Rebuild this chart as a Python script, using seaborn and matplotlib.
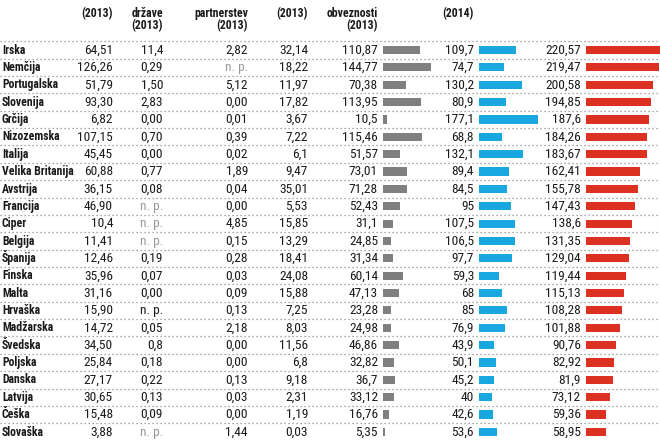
import os
import matplotlib
matplotlib.use("Agg")
import matplotlib.pyplot as plt
from matplotlib import font_manager
from matplotlib.font_manager import FontProperties
import seaborn as sns

# Data
countries = ['Irska', 'Nemčija', 'Portugalska', 'Slovenija', 'Grčija', 'Nizozemska',
             'Italija', 'Velika Britanija', 'Avstrija', 'Francija', 'Ciper', 'Belgija',
             'Španija', 'Finska', 'Malta', 'Hrvaška', 'Madžarska', 'Švedska', 'Poljska',
             'Danska', 'Latvija', 'Češka', 'Slovaška']
col_a = ['64,51', '126,26', '51,79', '93,30', '6,82', '107,15', '45,45', '60,88', '36,15',
         '46,90', '10,4', '11,41', '12,46', '35,96', '31,16', '15,90', '14,72', '34,50',
         '25,84', '27,17', '30,65', '15,48', '3,88']
col_b = ['11,4', '0,29', '1,50', '2,83', '0,00', '0,70', '0,00', '0,77', '0,08', 'n. p.',
         'n. p.', 'n. p.', '0,19', '0,07', '0,00', 'n. p.', '0,05', '0,8', '0,18', '0,22',
         '0,13', '0,09', 'n. p.']
col_c = ['2,82', 'n. p.', '5,12', '0,00', '0,01', '0,39', '0,02', '1,89', '0,04', '0,00',
         '4,85', '0,15', '0,28', '0,03', '0,09', '0,13', '2,18', '0,00', '0,00', '0,13',
         '0,03', '0,00', '1,44']
col_d = ['32,14', '18,22', '11,97', '17,82', '3,67', '7,22', '6,1', '9,47', '35,01', '5,53',
         '15,85', '13,29', '18,41', '24,08', '15,88', '7,25', '8,03', '11,56', '6,8', '9,18',
         '2,31', '1,19', '0,03']
obveznosti = [110.87, 144.77, 70.38, 113.95, 10.5, 115.46, 51.57, 73.01, 71.28, 52.43, 31.1,
              24.85, 31.34, 60.14, 47.13, 23.28, 24.98, 46.86, 32.82, 36.7, 33.12, 16.76, 5.35]
val_2014 = [109.7, 74.7, 130.2, 80.9, 177.1, 68.8, 132.1, 89.4, 84.5, 95, 107.5, 106.5, 97.7,
            59.3, 68, 85, 76.9, 43.9, 50.1, 45.2, 40, 42.6, 53.6]
skupaj = [220.57, 219.47, 200.58, 194.85, 187.6, 184.26, 183.67, 162.41, 155.78, 147.43, 138.6,
          131.35, 129.04, 119.44, 115.13, 108.28, 101.88, 90.76, 82.92, 81.9, 73.12, 59.36, 58.95]

header_2 = [(113, '(2013)'), (163, 'države'), (248, 'partnerstev'), (308, '(2013)'),
            (378, 'obveznosti'), (474, '(2014)')]
header_3 = [(163, '(2013)'), (248, '(2013)'), (378, '(2013)')]

# Style
sns.set_theme(style='white')
plt.rcParams['font.family'] = ['Lato', 'DejaVu Sans']

# look for a condensed / narrow face (regular + bold) among installed fonts
skip = ('Thin', 'Light', 'Medium', 'Black', 'Extra', 'Semi', 'Ultra', 'Italic',
        'Oblique', 'Heavy', 'Mono', 'Display', 'Serif')
groups = {}
for f in font_manager.fontManager.ttflist:
    base = os.path.basename(f.fname)
    if ('Condensed' in base or 'Narrow' in base) and not any(k in base for k in skip):
        key = base.split('-')[0]
        kind = 'bold' if 'Bold' in base else 'regular'
        groups.setdefault(key, {})[kind] = f.fname

font_reg = font_bold = None
for pref in ('RobotoCondensed', 'Roboto', 'NotoSans', 'OpenSans', 'LiberationSansNarrow',
             'DejaVuSansCondensed', 'DejaVuSans'):
    for key, d in groups.items():
        if key.startswith(pref) and 'regular' in d and 'bold' in d:
            font_reg, font_bold = d['regular'], d['bold']
            break
    if font_reg:
        break

fs = 9.6 if font_reg else 8.6
fs_b = 8.5 if font_reg else 8.0


def fp(bold=False):
    size = fs_b if bold else fs
    if font_reg:
        return FontProperties(fname=font_bold if bold else font_reg, size=size)
    return FontProperties(family=['Lato', 'DejaVu Sans'], size=size,
                          weight='bold' if bold else 'normal')


W, H = 660, 440
row0, step = 50, 17.36
ylim = ((H - row0) / step, -row0 / step)
px_per_unit = 0.3335
base_off = 0.21  # baseline sits a little below the row centre

fig = plt.figure(figsize=(6.6, 4.4), dpi=100)
ax = fig.add_axes([0, 0, 1, 1])
ax.set_xlim(0, W)
ax.set_ylim(*ylim)
ax.axis('off')

dark = '#1a1a1a'
grey_txt = '#9a9a9a'


def fmt(v):
    return f"{v:g}".replace('.', ',')


# dotted separators
n = len(countries)
for i in range(n):
    ax.axhline(i - 0.5, color='#8a8a8a', lw=0.9, ls=(0, (1, 2.2)))

for i, c in enumerate(countries):
    y = i + base_off
    ax.text(2, y, c, ha='left', va='baseline', fontproperties=fp(True), color=dark)
    for x, lst in [(113, col_a), (163, col_b), (248, col_c), (308, col_d)]:
        s = lst[i]
        col = grey_txt if s == 'n. p.' and not (lst is col_b and c == 'Hrvaška') else dark
        ax.text(x, y, s, ha='right', va='baseline', fontproperties=fp(), color=col)
    ax.text(378, y, fmt(obveznosti[i]), ha='right', va='baseline', fontproperties=fp(), color=dark)
    ax.text(474, y, fmt(val_2014[i]), ha='right', va='baseline', fontproperties=fp(), color=dark)
    ax.text(581, y, fmt(skupaj[i]), ha='right', va='baseline', fontproperties=fp(), color=dark)

for x, s in header_2:
    ax.text(x, -2.13 + base_off, s, ha='right', va='baseline', fontproperties=fp(True), color=dark)
for x, s in header_3:
    ax.text(x, -1.44 + base_off, s, ha='right', va='baseline', fontproperties=fp(True), color=dark)

# bar columns
bar_cols = [(383, 60, obveznosti, '#7f7f7f'),
            (479, 66, val_2014, '#19a7e0'),
            (586, 74, skupaj, '#dc3120')]
for x0, w, vals, color in bar_cols:
    bax = fig.add_axes([x0 / W, 0, w / W, 1])
    sns.barplot(x=vals, y=countries, ax=bax, color=color, orient='h', width=0.47,
                saturation=1, linewidth=0)
    bax.set_xlim(0, w / px_per_unit)
    bax.set_ylim(*ylim)
    bax.axis('off')
    bax.patch.set_alpha(0)

fig.savefig('out.png', dpi=100)
